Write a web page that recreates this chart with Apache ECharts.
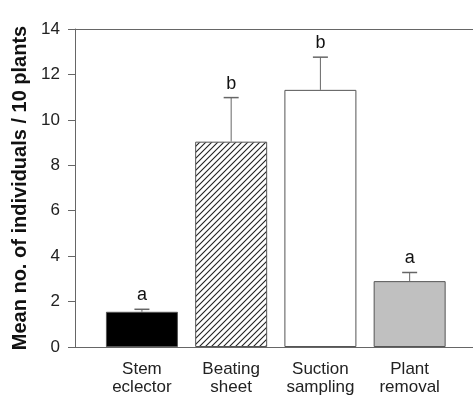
<!DOCTYPE html>
<html>
<head>
<meta charset="utf-8">
<script src="https://cdn.jsdelivr.net/npm/echarts@6/dist/echarts.min.js"></script>
<style>
  html, body { margin: 0; padding: 0; background: #fff; }
  #chart { width: 473px; height: 396px; }
</style>
</head>
<body>
<div id="chart"></div>
<script>
var categories = ['Stem\neclector', 'Beating\nsheet', 'Suction\nsampling', 'Plant\nremoval'];
var means = [1.55, 9.04, 11.32, 2.9];
var errors = [0.11, 1.94, 1.44, 0.38];
var letters = ['a', 'b', 'b', 'a'];

// diagonal hatch for the beating sheet bar
function hatch() {
    var c = document.createElement('canvas');
    c.width = 6; c.height = 6;
    var ctx = c.getContext('2d');
    ctx.fillStyle = '#fff';
    ctx.fillRect(0, 0, 6, 6);
    ctx.strokeStyle = '#222';
    ctx.lineWidth = 1.1;
    ctx.beginPath();
    ctx.moveTo(-1, 7); ctx.lineTo(7, -1);
    ctx.moveTo(-4, 4); ctx.lineTo(4, -4);
    ctx.moveTo(2, 10); ctx.lineTo(10, 2);
    ctx.stroke();
    return c;
}

var fills = ['#000', {image: hatch(), repeat: 'repeat'}, '#fff', '#c0c0c0'];
var font = 'Liberation Sans, Arial, sans-serif';

var mychart = echarts.init(document.getElementById('chart'));

var option = {
    animation: false,
    grid: {left: 75, right: 0, top: 29, bottom: 49},
    xAxis: [
        {
            type: 'value',
            min: -0.75,
            max: 3.71,
            axisLine: {show: true, onZero: false, lineStyle: {color: '#666', width: 1}},
            axisTick: {show: false},
            splitLine: {show: false},
            axisLabel: {
                customValues: [0, 1, 2, 3],
                formatter: function (v) { return categories[Math.round(v)]; },
                fontFamily: font,
                fontSize: 17,
                lineHeight: 18,
                color: '#222',
                margin: 13
            }
        },
        {
            type: 'value',
            position: 'top',
            min: -0.75,
            max: 3.71,
            axisLine: {show: true, onZero: false, lineStyle: {color: '#666', width: 1}},
            axisTick: {show: false},
            axisLabel: {show: false},
            splitLine: {show: false}
        }
    ],
    yAxis: {
        type: 'value',
        min: 0,
        max: 14,
        interval: 2,
        name: 'Mean no. of individuals / 10 plants',
        nameLocation: 'middle',
        nameGap: 31,
        nameTextStyle: {fontFamily: font, fontSize: 20, fontWeight: 'bold', color: '#111'},
        axisLine: {show: true, onZero: false, lineStyle: {color: '#666', width: 1}},
        axisTick: {show: true, length: 7, lineStyle: {color: '#666'}},
        splitLine: {show: false},
        axisLabel: {fontFamily: font, fontSize: 17, color: '#222', margin: 15}
    },
    series: [
        {
            type: 'bar',
            barWidth: 72,
            data: means.map(function (v, i) {
                return {value: [i, v], itemStyle: {color: fills[i]}};
            }),
            itemStyle: {borderColor: '#555', borderWidth: 1}
        },
        {
            type: 'custom',
            data: means.map(function (v, i) { return [i, v, v + errors[i]]; }),
            renderItem: function (params, api) {
                var x = api.value(0);
                var base = api.coord([x, api.value(1)]);
                var top = api.coord([x, api.value(2)]);
                var half = 7.5;
                return {
                    type: 'group',
                    children: [
                        {type: 'line', shape: {x1: base[0], y1: base[1], x2: top[0], y2: top[1]},
                         style: {stroke: '#666', lineWidth: 1}},
                        {type: 'line', shape: {x1: top[0] - half, y1: top[1], x2: top[0] + half, y2: top[1]},
                         style: {stroke: '#666', lineWidth: 1.5}},
                        {type: 'text', x: top[0], y: top[1] - 5,
                         style: {text: letters[params.dataIndex], fontFamily: font, fontSize: 18,
                                 fill: '#111', align: 'center', verticalAlign: 'bottom'}}
                    ]
                };
            },
            z: 3
        }
    ]
};

mychart.setOption(option);
</script>
</body>
</html>
